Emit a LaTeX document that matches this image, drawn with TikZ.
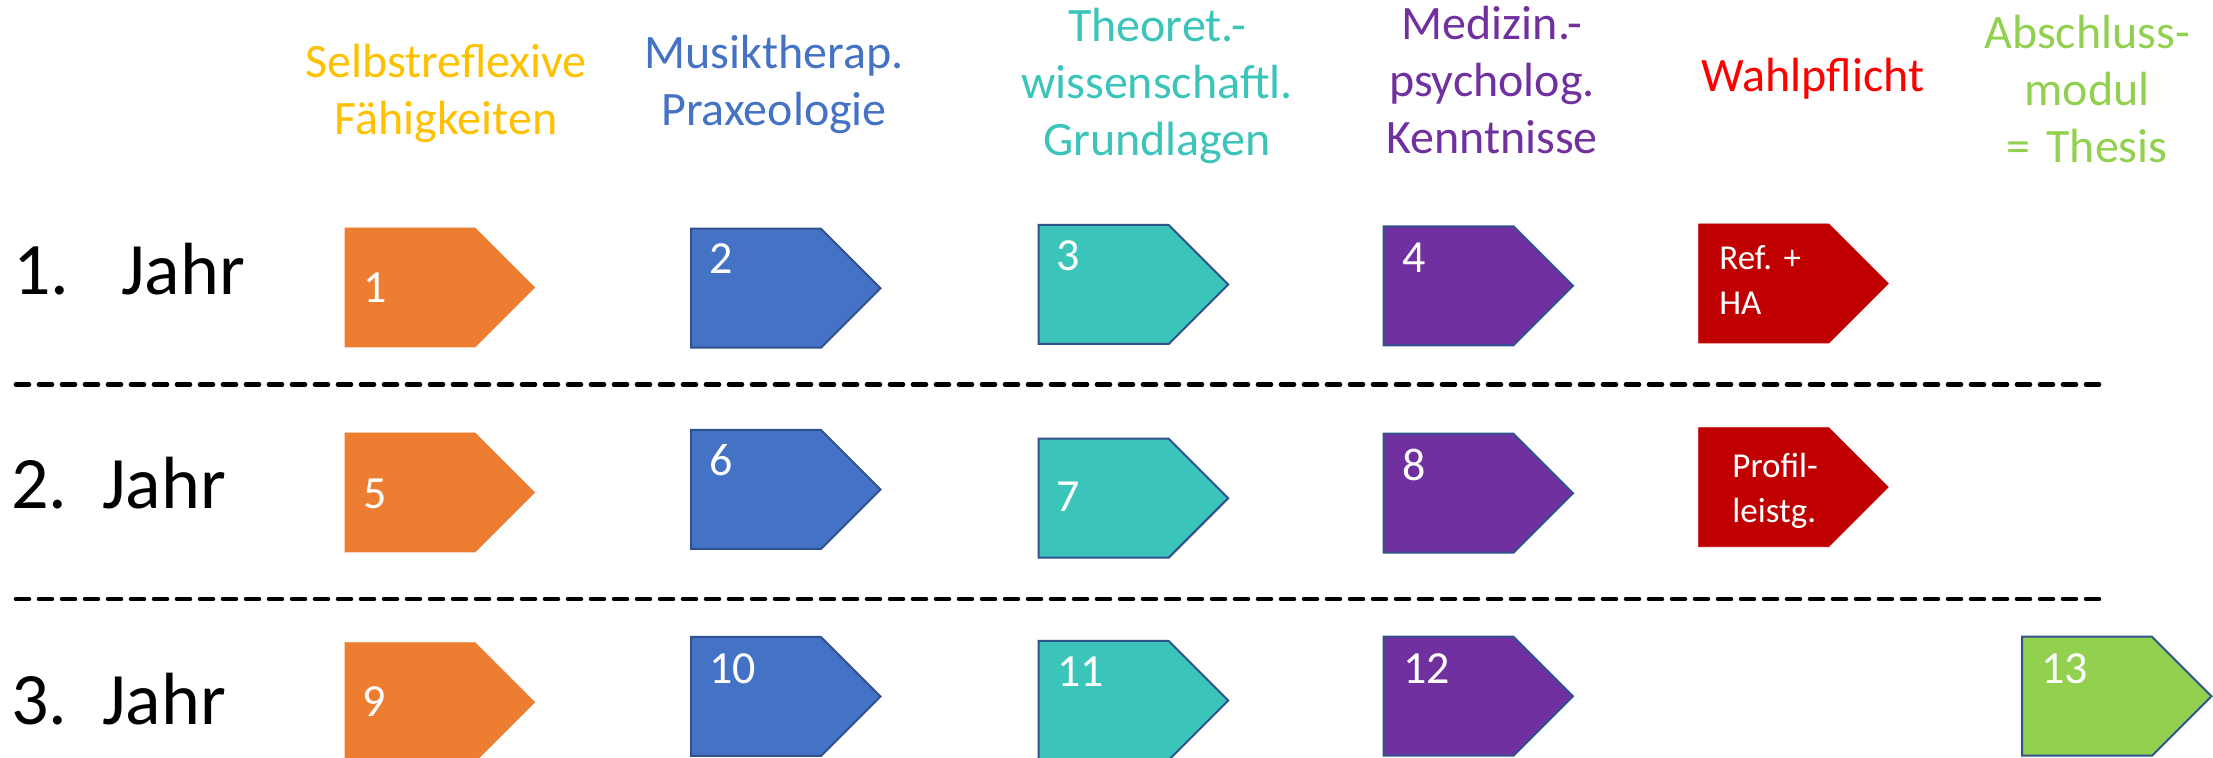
\documentclass[tikz,border=0pt]{standalone}
\usepackage{fontspec}
\setmainfont{Carlito}
\frenchspacing
\definecolor{cOrange}{HTML}{ED7D31}
\definecolor{cBlue}{HTML}{4472C4}
\definecolor{cTeal}{HTML}{3BC4BA}
\definecolor{cPurple}{HTML}{7030A0}
\definecolor{cRed}{HTML}{C00000}
\definecolor{cGreen}{HTML}{92D050}
\definecolor{cYellow}{HTML}{FFC000}
\definecolor{cBright}{HTML}{FF0000}
\definecolor{cEdge}{HTML}{2F528F}
\newcommand\modbox[4]{%
  \filldraw[#3] (#1,#2) coordinate (#4) -- ++(130,0) -- ++(59.5,59.5) -- ++(-59.5,59.5) -- ++(-130,0) -- cycle;}
\begin{document}
\begin{tikzpicture}[x=0.5pt,y=-0.5pt,
  hdr/.style={anchor=base, inner sep=0pt, text width=170pt, align=center,
    font=\fontsize{24pt}{28.5pt}\selectfont},
  yr/.style={anchor=base west, inner sep=0pt, font=\fontsize{37pt}{44pt}\selectfont},
  num/.style={anchor=base west, inner sep=0pt, text=white, font=\fontsize{23pt}{27pt}\selectfont},
  rtxt/.style={anchor=base west, inner sep=0pt, text=white, text width=60pt, align=left,
    font=\fontsize{17.5pt}{22.5pt}\selectfont},
  sep/.style={line width=2.3pt, dash pattern=on 6.5pt off 5pt, line cap=round},
  fo/.style={fill=cOrange, draw=cOrange, line width=0.4pt},
  fb/.style={fill=cBlue, draw=cEdge, line width=1pt},
  ft/.style={fill=cTeal, draw=cEdge, line width=1pt},
  fp/.style={fill=cPurple, draw=cEdge, line width=1pt},
  fr/.style={fill=cRed, draw=cRed, line width=0.4pt},
  fg/.style={fill=cGreen, draw=cEdge, line width=1pt}]
\useasboundingbox (0,0) rectangle (2213,758);
\clip (0,0) rectangle (2213,758);

% headers
\node[hdr, text=cYellow] (h1) at (446,77.3) {Selbstreflexive\\Fähigkeiten};
\node[hdr, text=cBlue] (h2) at (774,69) {Musiktherap.\\Praxeologie};
\node[hdr, text=cTeal] (h3) at (1157,41.7) {Theoret.-\\wissenschaftl.\\Grundlagen};
\node[hdr, text=cPurple] (h4) at (1492,40) {Medizin.-\\psycholog.\\Kenntnisse};
\node[hdr, text=cBright] (h5) at (1813,91.7) {Wahlpflicht};
\node[hdr, text=cGreen] (h6) at (2087,48.3) {Abschluss-\\modul\\= Thesis};

% year labels
\node[yr] (y1) at (13,295) {\makebox[54pt][l]{1.}Jahr};
\node[yr] (y2) at (11,509) {\makebox[45.5pt][l]{2.}Jahr};
\node[yr] (y3) at (11,725) {\makebox[45.5pt][l]{3.}Jahr};

% separators
\coordinate (d1a) at (16,384.5); \coordinate (d1b) at (2102,384.5);
\coordinate (d2a) at (16,599);   \coordinate (d2b) at (2102,599);
\draw[sep] (d1a) -- (d1b);
\draw[sep] (d2a) -- (d2b);

% row 1
\modbox{345}{228}{fo}{s1}
\modbox{691}{228.7}{fb}{s2}
\modbox{1038.7}{225}{ft}{s3}
\modbox{1383.5}{226.3}{fp}{s4}
\modbox{1698.7}{224}{fr}{s5}
% row 2
\modbox{345}{433}{fo}{s6}
\modbox{691}{430}{fb}{s7}
\modbox{1038.7}{438.7}{ft}{s8}
\modbox{1383.5}{433.7}{fp}{s9}
\modbox{1698.7}{427.7}{fr}{s10}
% row 3
\modbox{345}{642.7}{fo}{s11}
\modbox{691}{637}{fb}{s12}
\modbox{1038.7}{641}{ft}{s13}
\modbox{1383.5}{636.7}{fp}{s14}
\modbox{2022}{636.7}{fg}{s15}

% numbers
\node[num] (n1) at (363,302.7) {1};
\node[num] (n2) at (709,274) {2};
\node[num] (n3) at (1056,270.7) {3};
\node[num] (n4) at (1402,272.7) {4};
\node[num] (n5) at (363,509) {5};
\node[num] (n6) at (709,475.7) {6};
\node[num] (n7) at (1056,511.7) {7};
\node[num] (n8) at (1402,480.7) {8};
\node[num] (n9) at (362,716.7) {9};
\node[num] (n10) at (709,683.3) {10};
\node[num] (n11) at (1057,686.7) {11};
\node[num] (n12) at (1403,683.3) {12};
\node[num] (n13) at (2041,683.3) {13};

% Wahlpflicht texts
\node[rtxt] (r1) at (1719,270) {Ref. +\\HA};
\node[rtxt] (r2) at (1732,477.7) {Profil-\\leistg.};
\end{tikzpicture}
\end{document}
